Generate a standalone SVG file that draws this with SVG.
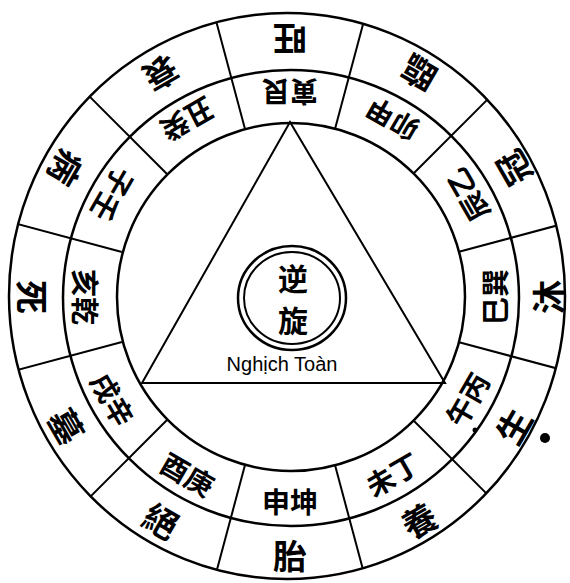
<svg xmlns="http://www.w3.org/2000/svg" width="570" height="583" viewBox="0 0 570 583">
<style>
.ring{fill:none;stroke:#000;stroke-width:2.5}
.div{stroke:#000;stroke-width:2}
.tri{fill:none;stroke:#000;stroke-width:2}
.cjk{font-family:"Noto Sans CJK SC","Noto Sans CJK TC",sans-serif;font-weight:700;fill:#000;text-anchor:middle;dominant-baseline:central}
.o{font-size:34px}
.m{font-size:28px}
.c{font-size:30px}
.lat{font-family:"Liberation Sans",Arial,sans-serif;font-size:20px;fill:#000;text-anchor:middle}
</style>
<defs>
<clipPath id="clip"><ellipse cx="287" cy="296" rx="278" ry="283"/></clipPath>
</defs>
<rect width="570" height="583" fill="#fff"/>
<g id="rings">
<ellipse class="ring" cx="287" cy="296" rx="278" ry="283"/>
<circle class="ring" cx="291" cy="298" r="228"/>
<circle class="ring" cx="291" cy="297" r="174"/>
</g>
<g id="connectors" clip-path="url(#clip)">
<line class="div" x1="335.0" y1="128.9" x2="367.6" y2="7.2"/>
<line class="div" x1="413.0" y1="174.0" x2="502.1" y2="84.9"/>
<line class="div" x1="458.1" y1="252.0" x2="579.8" y2="219.4"/>
<line class="div" x1="458.1" y1="342.0" x2="579.8" y2="374.6"/>
<line class="div" x1="413.0" y1="420.0" x2="502.1" y2="509.1"/>
<line class="div" x1="335.0" y1="465.1" x2="367.6" y2="586.8"/>
<line class="div" x1="245.0" y1="465.1" x2="212.4" y2="586.8"/>
<line class="div" x1="167.0" y1="420.0" x2="77.9" y2="509.1"/>
<line class="div" x1="121.9" y1="342.0" x2="0.2" y2="374.6"/>
<line class="div" x1="121.9" y1="252.0" x2="0.2" y2="219.4"/>
<line class="div" x1="167.0" y1="174.0" x2="77.9" y2="84.9"/>
<line class="div" x1="245.0" y1="128.9" x2="212.4" y2="7.2"/>
</g>
<g id="triangle"><polygon class="tri" points="290,122 445,383 142,383"/></g>
<g id="center">
<ellipse class="ring" cx="292" cy="298" rx="54" ry="52"/>
<ellipse class="ring" cx="292" cy="298" rx="48" ry="46" style="stroke-width:2"/>
<text class="cjk c" x="293" y="277">逆</text>
<text class="cjk c" x="293" y="319">旋</text>
<text class="lat" x="282" y="371">Nghịch Toàn</text>
</g>
<g id="seg-0" transform="rotate(-180 290 297)"><text class="cjk o" x="290" y="554">旺</text><text class="cjk m" x="290" y="501">寅艮</text></g>
<g id="seg-30" transform="rotate(-150 290 297)"><text class="cjk o" x="290" y="554">臨</text><text class="cjk m" x="290" y="501">卯甲</text></g>
<g id="seg-60" transform="rotate(-120 290 297)"><text class="cjk o" x="290" y="554">冠</text><text class="cjk m" x="290" y="501">辰乙</text></g>
<g id="seg-90" transform="rotate(-90 290 297)"><text class="cjk o" x="290" y="554">沐</text><text class="cjk m" x="290" y="501">巳巽</text></g>
<g id="seg-120" transform="rotate(-60 290 297)"><text class="cjk o" x="290" y="554">生</text><text class="cjk m" x="290" y="501">午丙</text></g>
<g id="seg-150" transform="rotate(-30 290 297)"><text class="cjk o" x="290" y="554">養</text><text class="cjk m" x="290" y="501">未丁</text></g>
<g id="seg-180"><text class="cjk o" x="290" y="554">胎</text><text class="cjk m" x="290" y="501">申坤</text></g>
<g id="seg-210" transform="rotate(30 290 297)"><text class="cjk o" x="290" y="554">絕</text><text class="cjk m" x="290" y="501">酉庚</text></g>
<g id="seg-240" transform="rotate(60 290 297)"><text class="cjk o" x="290" y="554">墓</text><text class="cjk m" x="290" y="501">戌辛</text></g>
<g id="seg-270" transform="rotate(90 290 297)"><text class="cjk o" x="290" y="554">死</text><text class="cjk m" x="290" y="501">亥乾</text></g>
<g id="seg-300" transform="rotate(120 290 297)"><text class="cjk o" x="290" y="554">病</text><text class="cjk m" x="290" y="501">子壬</text></g>
<g id="seg-330" transform="rotate(150 290 297)"><text class="cjk o" x="290" y="554">衰</text><text class="cjk m" x="290" y="501">丑癸</text></g>
<g id="marks">
<circle cx="545" cy="438" r="5" fill="#000"/>
<circle cx="475" cy="430" r="2.5" fill="#000"/>
</g>
</svg>
